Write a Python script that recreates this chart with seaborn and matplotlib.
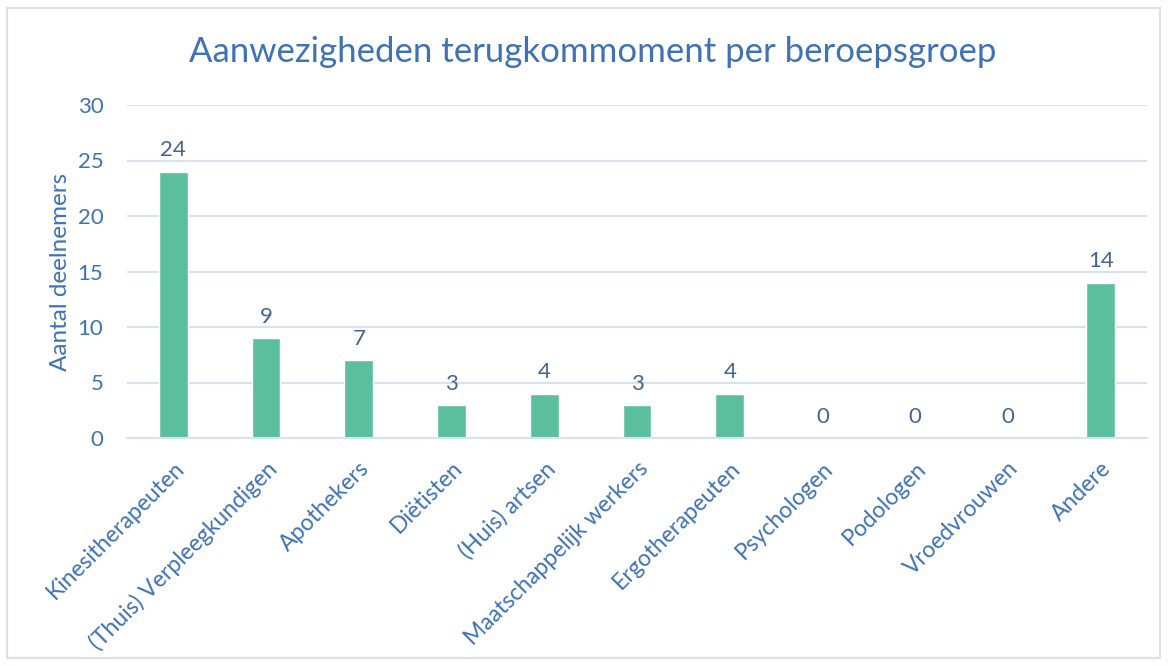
import matplotlib
matplotlib.use("Agg")
import matplotlib.pyplot as plt
import seaborn as sns
import pandas as pd
from matplotlib.patches import Rectangle

categories = ["Kinesitherapeuten", "(Thuis) Verpleegkundigen", "Apothekers", "Diëtisten",
              "(Huis) artsen", "Maatschappelijk werkers", "Ergotherapeuten", "Psychologen",
              "Podologen", "Vroedvrouwen", "Andere"]
values = [24, 9, 7, 3, 4, 3, 4, 0, 0, 0, 14]
yticks = [0, 5, 10, 15, 20, 25, 30]

title = "Aanwezigheden terugkommoment per beroepsgroep"
ylabel = "Aantal deelnemers"

sns.set_theme(style="white")
plt.rcParams['font.family'] = ['Lato', 'DejaVu Sans']

text_blue = "#3F72B5"
label_blue = "#44648F"
bar_green = "#5BBF9E"
grid_col = "#D6E2F0"

df = pd.DataFrame({"cat": categories, "val": values})

fig = plt.figure(figsize=(11.68, 6.66), dpi=100)
ax = fig.add_axes([127/1168, 1 - 438/666, (1147-127)/1168, (438-105)/666])

sns.barplot(data=df, x="cat", y="val", color=bar_green, width=0.31, ax=ax, saturation=1)

ax.set_ylim(0, 30)
ax.set_yticks(yticks)
ax.yaxis.grid(True, color=grid_col, linewidth=1.5)
ax.set_axisbelow(True)
for s in ["top", "right", "left"]:
    ax.spines[s].set_visible(False)
ax.spines["bottom"].set_color(grid_col)
ax.spines["bottom"].set_linewidth(1.5)
ax.tick_params(axis="both", length=0, colors=text_blue, labelsize=16)
ax.tick_params(axis="y", pad=17)
ax.set_xlabel("")
ax.set_ylabel(ylabel, color=text_blue, fontsize=17.5)
ax.yaxis.set_label_coords(-0.055, 0.5)
plt.setp(ax.get_xticklabels(), rotation=45, ha="right", rotation_mode="anchor")
ax.tick_params(axis="x", pad=14, labelsize=16.5)

for i, v in enumerate(values):
    ax.annotate(str(v), (i, v), xytext=(0, 8), textcoords="offset points",
                ha="center", va="bottom", color=label_blue, fontsize=16)

fig.text(593/1168, 1 - 52/666, title, ha="center", va="center", color=text_blue, fontsize=25)

fig.patches.append(Rectangle((7/1168, 8/666), (1160-7)/1168, (658-8)/666, transform=fig.transFigure,
                             fill=False, edgecolor=grid_col, linewidth=1.5))

fig.savefig("out.png", dpi=100)
